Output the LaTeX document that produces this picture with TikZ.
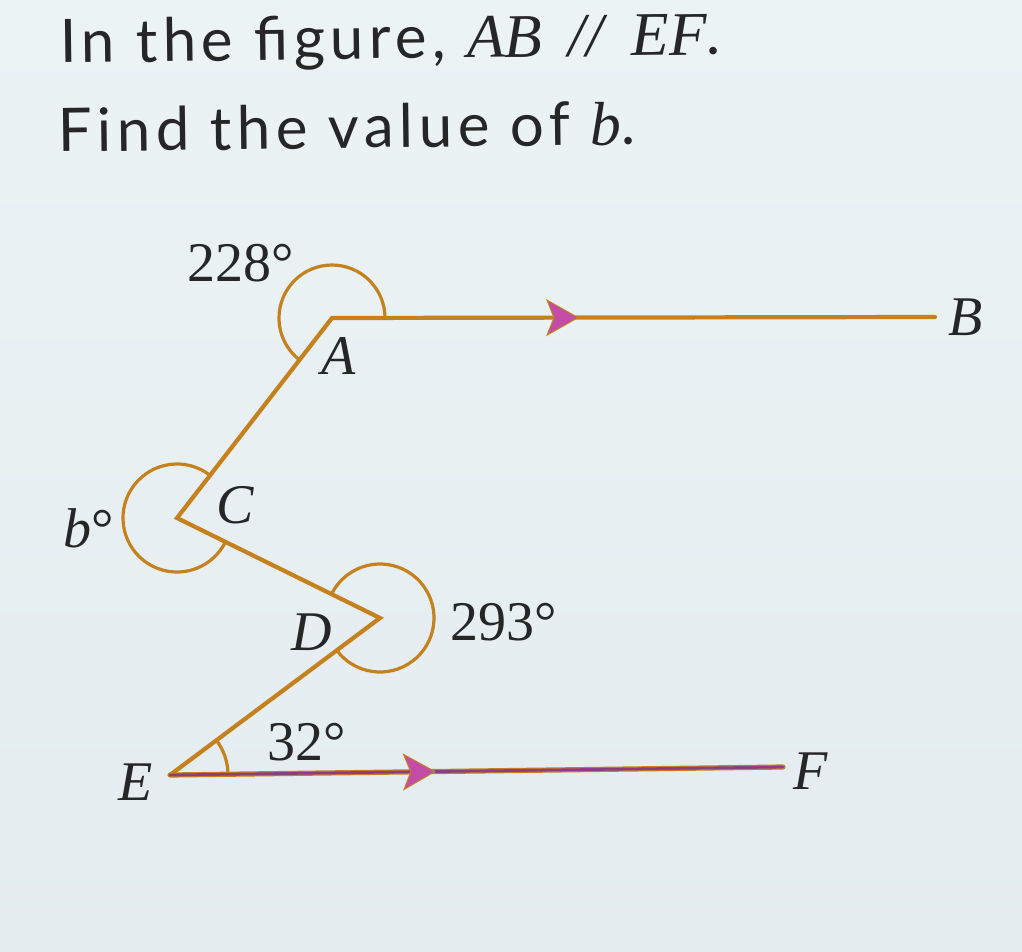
\documentclass[tikz,border=0pt]{standalone}
\usepackage{fontspec}
\setmainfont{Liberation Serif}
\newfontfamily\titlefont[LetterSpace=9]{Lato}
\usetikzlibrary{angles,decorations.markings}
\definecolor{bg}{HTML}{E3ECEF}
\definecolor{bglight}{HTML}{ECF3F5}
\definecolor{lineor}{HTML}{C6811F}
\definecolor{arrmag}{HTML}{C24CA6}
\definecolor{efpur}{HTML}{8E3E80}
\definecolor{ink}{HTML}{262626}
\tikzset{
  seg/.style={lineor, line width=4.2pt, line cap=round, line join=miter},
  arcst/.style={draw=lineor, line width=3.2pt},
  lbl/.style={text=ink, inner sep=0pt, font=\fontsize{56}{60}\selectfont, anchor=base west},
  ttl/.style={text=ink, inner sep=0pt, font=\titlefont\fontsize{60}{70}\selectfont, anchor=base west, rotate=0.75},
  arrowmark/.style={postaction={decorate}, decoration={markings, mark=at position #1 with {\fill[arrmag, draw=lineor, line width=1pt] (-31,17.5) -- (0,0) -- (-31,-17.5) -- (-24,0) -- cycle;}}}
}
\begin{document}
\begin{tikzpicture}[x=1pt,y=1pt]
\shade[top color=bglight, bottom color=bg] (0,0) rectangle (1022,-952);
\useasboundingbox (0,0) rectangle (1022,-952);

% title
\node[ttl] (t1) at (60,-63) {In the figure, {\rmfamily\itshape\fontsize{62}{70}\selectfont AB\hspace{26pt}//\hspace{28pt}EF}.};
\node[ttl] (t2) at (58,-152) {Find the value of {\rmfamily\itshape\fontsize{62}{70}\selectfont b}.};

% points
\coordinate (A) at (332,-318);
\coordinate (B) at (935,-317);
\coordinate (C) at (177,-518);
\coordinate (D) at (380,-618);
\coordinate (E) at (170,-775);
\coordinate (F) at (783,-767);

% angle arcs
\pic[arcst, angle radius=53pt] {angle = B--A--C};
\pic[arcst, angle radius=54pt] {angle = A--C--D};
\pic[arcst, angle radius=54pt] {angle = E--D--C};
\pic[arcst, angle radius=58pt] {angle = F--E--D};

% segments
\draw[seg] (A) -- (C) -- (D) -- (E);
\draw[seg, arrowmark=0.408] (A) -- (B);
\draw[seg, line width=5.2pt] (E) -- (F);
\draw[efpur, line width=2.8pt, line cap=round, arrowmark=0.432] (E) -- (F);

% labels
\node[lbl] (la) at (321,-374) {\itshape A};
\node[lbl] (lb) at (948,-335) {\itshape B};
\node[lbl] (lc) at (216,-523) {\itshape C};
\node[lbl] (ld) at (291,-650) {\itshape D};
\node[lbl] (le) at (118,-800) {\itshape E};
\node[lbl] (lf) at (793,-789) {\itshape F};
\node[lbl] (l228) at (187,-281) {228°};
\node[lbl] (l293) at (450,-640) {293°};
\node[lbl] (l32) at (267,-760) {32°};
\node[lbl] (lbdeg) at (63,-547) {\itshape b\upshape°};
\end{tikzpicture}
\end{document}
